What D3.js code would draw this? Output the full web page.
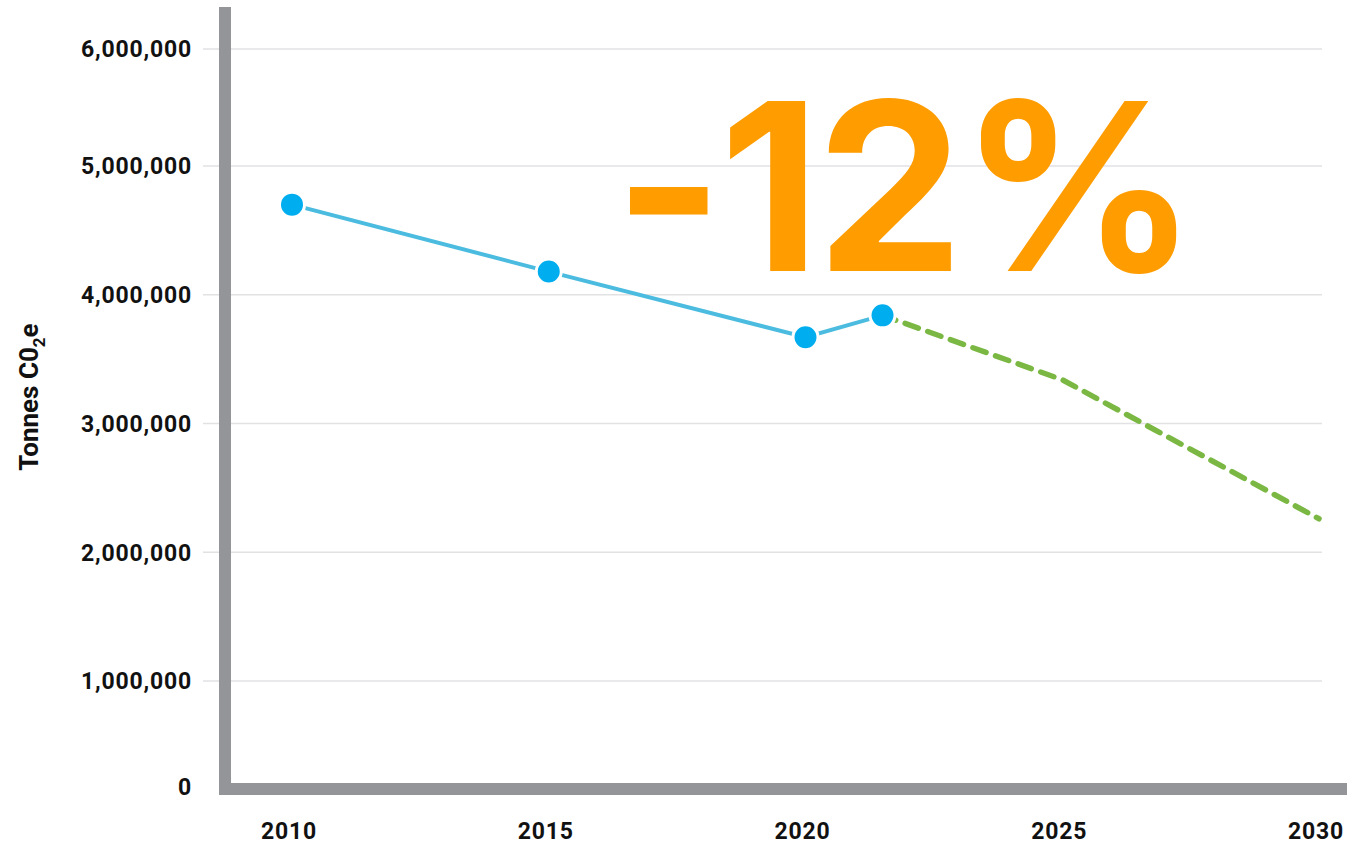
<!DOCTYPE html>
<html>
<head>
<meta charset="utf-8">
<script src="https://cdn.jsdelivr.net/npm/d3@7"></script>
<style>
  html, body { margin: 0; padding: 0; background: #fff; }
  svg { display: block; }
  .tick-label { font-family: Roboto, "Liberation Sans", sans-serif; font-weight: 700; font-size: 23px; fill: #111; letter-spacing: 0.8px; }
  .headline { font-family: Inter, "DejaVu Sans", sans-serif; font-weight: 700; font-size: 234px; fill: #ff9c00; letter-spacing: -4px; }
</style>
</head>
<body>
<svg id="chart"></svg>
<script>
// chart data
const yTicks = [0, 1000000, 2000000, 3000000, 4000000, 5000000, 6000000];
const xTicks = [2010, 2015, 2020, 2025, 2030];
const actualYears = [2010, 2015, 2020, 2021.5];
const actualValues = [4700000, 4180000, 3670000, 3840000];
const targetYears = [2021.5, 2025, 2030];
const targetValues = [3840000, 3340000, 2260000];
const headline = "-12%";

const width = 1347, height = 845;
const svg = d3.select("#chart").attr("width", width).attr("height", height);

// x: years, y: tonnes (the source axis spacing is uneven, so use a piecewise scale)
const x = d3.scaleLinear().domain([2010, 2030]).range([292, 1319]);
const y = d3.scaleLinear()
    .domain([0, 1000000, 5000000, 6000000])
    .range([787, 681, 166, 49]);

// gridlines
svg.append("g")
  .selectAll("line")
  .data(yTicks.filter(d => d > 0))
  .join("line")
    .attr("x1", 203).attr("x2", 1322)
    .attr("y1", d => y(d)).attr("y2", d => y(d))
    .attr("stroke", "#e2e2e4")
    .attr("stroke-width", 1.5);

// y tick labels
svg.append("g")
  .selectAll("text")
  .data(yTicks)
  .join("text")
    .attr("class", "tick-label")
    .attr("x", 192)
    .attr("y", d => y(d))
    .attr("dy", "0.36em")
    .attr("text-anchor", "end")
    .text(d => d3.format(",")(d));

// x tick labels
svg.append("g")
  .selectAll("text")
  .data(xTicks)
  .join("text")
    .attr("class", "tick-label")
    .attr("x", d => x(d) - 3)
    .attr("y", 839)
    .attr("text-anchor", "middle")
    .text(d => d);

// thick grey axes
svg.append("rect").attr("x", 219).attr("y", 7).attr("width", 12).attr("height", 788).attr("fill", "#939598");
svg.append("rect").attr("x", 219).attr("y", 783).attr("width", 1128).attr("height", 12).attr("fill", "#939598");

// axis title
const title = svg.append("text")
    .attr("transform", "translate(38,397) rotate(-90)")
    .attr("text-anchor", "middle")
    .style("font-family", "Roboto, 'Liberation Sans', sans-serif")
    .style("font-weight", 700)
    .style("font-size", "26px")
    .attr("fill", "#111");
title.append("tspan").text("Tonnes C0");
title.append("tspan").attr("dy", 7).style("font-size", "17px").text("2");
title.append("tspan").attr("dy", -7).text("e");

// projected path (dashed green)
const line = d3.line().x(d => x(d[0])).y(d => y(d[1]));
svg.append("path")
    .datum(d3.zip(targetYears, targetValues))
    .attr("d", line)
    .attr("fill", "none")
    .attr("stroke", "#7ab843")
    .attr("stroke-width", 5.5)
    .attr("stroke-linecap", "round")
    .attr("stroke-dasharray", "14 10");

// actual emissions
const actual = d3.zip(actualYears, actualValues);
svg.append("path")
    .datum(actual)
    .attr("d", line)
    .attr("fill", "none")
    .attr("stroke", "#4bbcdf")
    .attr("stroke-width", 4);

svg.append("g")
  .selectAll("circle")
  .data(actual)
  .join("circle")
    .attr("cx", d => x(d[0]))
    .attr("cy", d => y(d[1]))
    .attr("r", 12.5)
    .attr("fill", "#00aeef")
    .attr("stroke", "#fff")
    .attr("stroke-width", 3);

// headline figure
svg.append("text")
    .attr("class", "headline")
    .attr("x", 614)
    .attr("y", 271)
    .text(headline);
</script>
</body>
</html>
